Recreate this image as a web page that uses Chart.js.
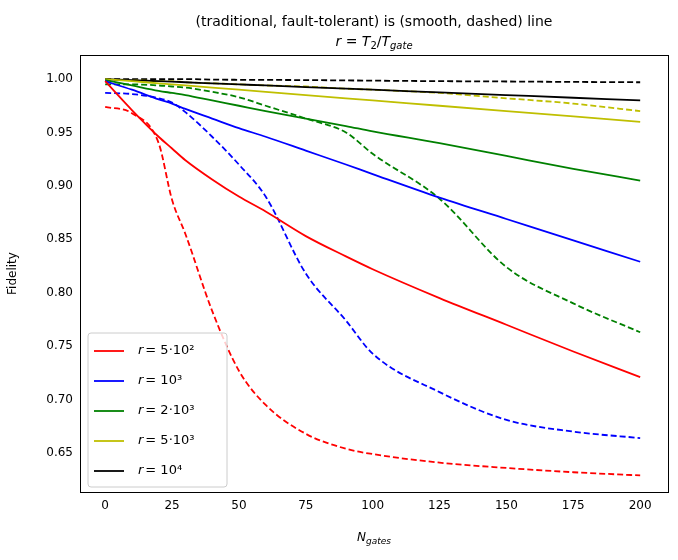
<!DOCTYPE html>
<html>
<head>
<meta charset="UTF-8">
<script src="https://cdn.jsdelivr.net/npm/chart.js"></script>
<style>
  body { margin: 0; background: #fff; }
  #wrap { width: 678px; height: 560px; }
</style>
</head>
<body>
<div id="wrap"><canvas id="c" width="678" height="560"></canvas></div>
<script>
// Values
const xs = [0, 10, 20, 25, 30, 40, 50, 60, 75, 90, 100, 125, 150, 175, 200];

const names = ['5·10²', '10³', '2·10³', '5·10³', '10⁴'];
const colors = ['#ff0000', '#0000ff', '#008000', '#bfbf00', '#000000'];

const smoothRed    = [0.998, 0.971, 0.946, 0.935, 0.924, 0.906, 0.890, 0.876, 0.853, 0.834, 0.822, 0.795, 0.770, 0.745, 0.721];
const smoothBlue   = [0.998, 0.990, 0.981, 0.977, 0.972, 0.963, 0.954, 0.946, 0.933, 0.920, 0.911, 0.889, 0.869, 0.849, 0.829];
const smoothGreen  = [0.999, 0.994, 0.989, 0.987, 0.985, 0.980, 0.975, 0.970, 0.963, 0.956, 0.951, 0.940, 0.928, 0.916, 0.905];
const smoothYellow = [1.000, 0.998, 0.996, 0.995, 0.994, 0.992, 0.990, 0.988, 0.985, 0.982, 0.980, 0.975, 0.970, 0.965, 0.960];
const smoothBlack  = [1.000, 0.999, 0.998, 0.9975, 0.997, 0.996, 0.995, 0.994, 0.9925, 0.991, 0.990, 0.9875, 0.985, 0.9825, 0.980];

const dashRed    = [0.974, 0.968, 0.940, 0.887, 0.855, 0.783, 0.727, 0.695, 0.668, 0.654, 0.649, 0.641, 0.636, 0.632, 0.629];
const dashBlue   = [0.987, 0.986, 0.982, 0.978, 0.969, 0.946, 0.920, 0.890, 0.818, 0.774, 0.743, 0.707, 0.681, 0.670, 0.664];
const dashGreen  = [0.995, 0.995, 0.994, 0.993, 0.992, 0.988, 0.983, 0.975, 0.963, 0.950, 0.930, 0.888, 0.824, 0.790, 0.763];
const dashYellow = [0.999, 0.999, 0.998, 0.998, 0.997, 0.996, 0.995, 0.994, 0.993, 0.991, 0.990, 0.987, 0.982, 0.977, 0.970];
const dashBlack  = [1.000, 1.000, 1.000, 1.000, 1.000, 0.9995, 0.9993, 0.9992, 0.999, 0.9987, 0.9985, 0.998, 0.9977, 0.9973, 0.997];

const smooth = [smoothRed, smoothBlue, smoothGreen, smoothYellow, smoothBlack];
const dashed = [dashRed, dashBlue, dashGreen, dashYellow, dashBlack];

const FONT = 'DejaVu Sans';
const pts = arr => arr.map((v, i) => ({x: xs[i], y: v}));

const datasets = [];
smooth.forEach((s, i) => datasets.push({
  label: 'r = ' + names[i], data: pts(s), borderColor: colors[i],
  borderWidth: 1.8, pointRadius: 0, cubicInterpolationMode: 'monotone', fill: false
}));
dashed.forEach((s, i) => datasets.push({
  label: '', data: pts(s), borderColor: colors[i],
  borderWidth: 1.8, pointRadius: 0, cubicInterpolationMode: 'monotone', fill: false, borderDash: [6, 3]
}));

// draws frame, titles, x label with subscript and the legend inside the plot
const extras = {
  id: 'extras',
  afterDraw(chart) {
    const ctx = chart.ctx, a = chart.chartArea;
    ctx.save();
    ctx.strokeStyle = '#000';
    ctx.lineWidth = 1;
    ctx.strokeRect(a.left + 0.5, a.top + 0.5, a.right - a.left, a.bottom - a.top);
    ctx.fillStyle = '#000';
    ctx.textAlign = 'center';
    ctx.textBaseline = 'alphabetic';
    const cx = (a.left + a.right) / 2;
    ctx.font = '14px ' + FONT;
    ctx.fillText('(traditional, fault-tolerant) is (smooth, dashed) line', cx, 26);
    // r = T2/Tgate
    const parts = [['italic 14px ' + FONT, 'r', 0], ['14px ' + FONT, ' = ', 0], ['italic 14px ' + FONT, 'T', 0],
                   ['10px ' + FONT, '2', 3], ['14px ' + FONT, '/', 0], ['italic 14px ' + FONT, 'T', 0],
                   ['italic 10px ' + FONT, 'gate', 3]];
    let w = 0;
    parts.forEach(p => { ctx.font = p[0]; w += ctx.measureText(p[1]).width; });
    let x = cx - w / 2;
    ctx.textAlign = 'left';
    parts.forEach(p => { ctx.font = p[0]; ctx.fillText(p[1], x, 46 + p[2]); x += ctx.measureText(p[1]).width; });
    // x label
    ctx.font = 'italic 12px ' + FONT;
    const wn = ctx.measureText('N').width;
    ctx.font = 'italic 9px ' + FONT;
    const wg = ctx.measureText('gates').width;
    x = cx - (wn + wg) / 2;
    ctx.font = 'italic 12px ' + FONT;
    ctx.fillText('N', x, 541);
    ctx.font = 'italic 9px ' + FONT;
    ctx.fillText('gates', x + wn, 544);
    // legend
    const lx = a.left + 8, ly = 333, lw = 139, lh = 154;
    ctx.fillStyle = 'rgba(255,255,255,0.8)';
    ctx.strokeStyle = '#ccc';
    ctx.lineWidth = 1;
    ctx.beginPath();
    ctx.roundRect(lx, ly, lw, lh, 3);
    ctx.fill(); ctx.stroke();
    names.forEach((n, i) => {
      const y = ly + 18 + i * 30;
      ctx.strokeStyle = colors[i];
      ctx.lineWidth = 1.8;
      ctx.beginPath(); ctx.moveTo(lx + 6, y); ctx.lineTo(lx + 36, y); ctx.stroke();
      ctx.fillStyle = '#000';
      ctx.textBaseline = 'middle';
      ctx.font = 'italic 13px ' + FONT;
      ctx.fillText('r', lx + 50, y);
      ctx.font = '13px ' + FONT;
      ctx.fillText('= ' + n, lx + 50 + ctx.measureText('r').width + 2, y);
    });
    ctx.restore();
  }
};

new Chart(document.getElementById('c'), {
  type: 'line',
  data: { datasets },
  plugins: [extras],
  options: {
    responsive: false,
    animation: false,
    layout: { padding: { top: 55, left: 4, right: 10, bottom: 8 } },
    plugins: { legend: { display: false }, tooltip: { enabled: false } },
    scales: {
      x: {
        type: 'linear', min: -9.4, max: 210.4,
        afterBuildTicks: s => { s.ticks = [0, 25, 50, 75, 100, 125, 150, 175, 200].map(v => ({value: v})); },
        afterFit: s => { s.height = 60; },
        grid: { display: false, drawTicks: true, tickLength: 4, tickColor: '#000' },
        border: { color: '#000' },
        ticks: { color: '#000', font: { family: FONT, size: 12 } }
      },
      y: {
        min: 0.6135, max: 1.0225,
        afterBuildTicks: s => { s.ticks = [0.65, 0.70, 0.75, 0.80, 0.85, 0.90, 0.95, 1.00].map(v => ({value: v})); },
        afterFit: s => { s.width = 76; },
        grid: { display: false, tickLength: 4, tickColor: '#000' },
        border: { color: '#000' },
        ticks: { color: '#000', font: { family: FONT, size: 12 }, callback: v => v.toFixed(2) },
        title: { display: true, text: 'Fidelity', color: '#000', padding: 2, font: { family: FONT, size: 12 } }
      }
    }
  }
});
</script>
</body>
</html>
